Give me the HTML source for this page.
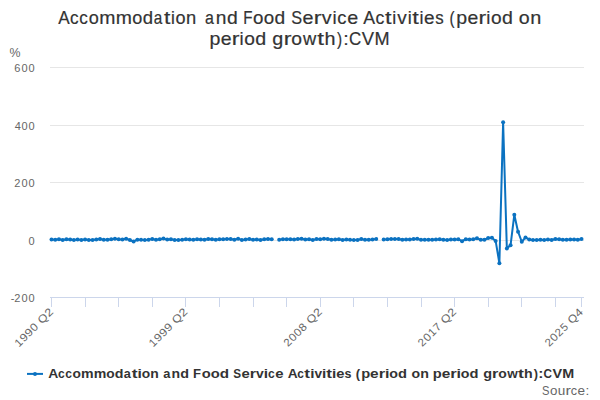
<!DOCTYPE html>
<html><head><meta charset="utf-8"><style>
html,body{margin:0;padding:0;background:#fff;width:600px;height:400px;overflow:hidden}
svg{display:block}
text{font-family:"Liberation Sans",sans-serif}
</style></head><body>
<svg width="600" height="400" viewBox="0 0 600 400">
<rect width="600" height="400" fill="#fff"/>
<g fill="#333" font-size="18.6" stroke="#333" stroke-width="0.2">
<text transform="matrix(0.923 0 0 1 58.17 23.7)">A</text><text transform="matrix(0.920 0 0 1 69.94 23.7)">c</text><text transform="matrix(0.920 0 0 1 79.31 23.7)">c</text><text transform="matrix(0.974 0 0 1 88.65 23.7)">o</text><text transform="matrix(1.044 0 0 1 99.16 23.7)">m</text><text transform="matrix(1.044 0 0 1 115.76 23.7)">m</text><text transform="matrix(0.974 0 0 1 132.29 23.7)">o</text><text transform="matrix(0.996 0 0 1 142.70 23.7)">d</text><text transform="matrix(0.824 0 0 1 153.73 23.7)">a</text><text transform="matrix(1.225 0 0 1 163.91 23.7)">t</text><text transform="matrix(0.937 0 0 1 170.92 23.7)">i</text><text transform="matrix(0.974 0 0 1 175.40 23.7)">o</text><text transform="matrix(0.988 0 0 1 185.97 23.7)">n</text><text transform="matrix(0.860 0 0 1 204.92 23.7)">a</text><text transform="matrix(1.032 0 0 1 215.78 23.7)">n</text><text transform="matrix(1.040 0 0 1 226.89 23.7)">d</text><text transform="matrix(0.813 0 0 1 243.16 23.7)">F</text><text transform="matrix(1.008 0 0 1 253.00 23.7)">o</text><text transform="matrix(1.008 0 0 1 263.80 23.7)">o</text><text transform="matrix(1.031 0 0 1 274.57 23.7)">d</text><text transform="matrix(0.876 0 0 1 291.26 23.7)">S</text><text transform="matrix(1.062 0 0 1 302.57 23.7)">e</text><text transform="matrix(1.260 0 0 1 313.76 23.7)">r</text><text transform="matrix(1.061 0 0 1 321.65 23.7)">v</text><text transform="matrix(1.005 0 0 1 332.46 23.7)">i</text><text transform="matrix(0.986 0 0 1 337.30 23.7)">c</text><text transform="matrix(1.062 0 0 1 347.29 23.7)">e</text><text transform="matrix(0.953 0 0 1 363.37 23.7)">A</text><text transform="matrix(0.949 0 0 1 375.52 23.7)">c</text><text transform="matrix(1.265 0 0 1 385.09 23.7)">t</text><text transform="matrix(0.967 0 0 1 392.33 23.7)">i</text><text transform="matrix(1.021 0 0 1 397.23 23.7)">v</text><text transform="matrix(0.967 0 0 1 407.64 23.7)">i</text><text transform="matrix(1.265 0 0 1 412.19 23.7)">t</text><text transform="matrix(0.967 0 0 1 419.43 23.7)">i</text><text transform="matrix(1.022 0 0 1 424.03 23.7)">e</text><text transform="matrix(0.907 0 0 1 435.17 23.7)">s</text><text transform="matrix(0.817 0 0 1 449.56 23.7)">(</text><text transform="matrix(1.051 0 0 1 456.34 23.7)">p</text><text transform="matrix(1.044 0 0 1 467.55 23.7)">e</text><text transform="matrix(1.238 0 0 1 478.54 23.7)">r</text><text transform="matrix(0.988 0 0 1 486.29 23.7)">i</text><text transform="matrix(1.027 0 0 1 491.01 23.7)">o</text><text transform="matrix(1.050 0 0 1 501.99 23.7)">d</text><text transform="matrix(1.055 0 0 1 518.78 23.7)">o</text><text transform="matrix(1.070 0 0 1 530.23 23.7)">n</text><text transform="matrix(1.055 0 0 1 209.53 44.7)">p</text><text transform="matrix(1.048 0 0 1 220.78 44.7)">e</text><text transform="matrix(1.243 0 0 1 231.82 44.7)">r</text><text transform="matrix(0.992 0 0 1 239.60 44.7)">i</text><text transform="matrix(1.031 0 0 1 244.34 44.7)">o</text><text transform="matrix(1.054 0 0 1 255.36 44.7)">d</text><text transform="matrix(1.063 0 0 1 272.17 44.7)">g</text><text transform="matrix(1.253 0 0 1 283.65 44.7)">r</text><text transform="matrix(1.040 0 0 1 291.22 44.7)">o</text><text transform="matrix(0.989 0 0 1 302.95 44.7)">w</text><text transform="matrix(1.307 0 0 1 317.16 44.7)">t</text><text transform="matrix(1.062 0 0 1 324.45 44.7)">h</text><text transform="matrix(0.827 0 0 1 337.07 44.7)">)</text><text transform="matrix(1.058 0 0 1 343.13 44.7)">:</text><text transform="matrix(0.908 0 0 1 349.09 44.7)">C</text><text transform="matrix(0.993 0 0 1 361.69 44.7)">V</text><text transform="matrix(0.975 0 0 1 374.38 44.7)">M</text>
</g>
<g stroke="#e6e6e6" stroke-width="1" fill="none">
<path d="M50 67.5 H584"/><path d="M50 125.5 H584"/><path d="M50 182.5 H584"/><path d="M50 240.5 H584"/>
</g>
<g stroke="#ccd6eb" stroke-width="1" fill="none">
<path d="M50 297.5 H584"/>
<path d="M51.5 297.5 V307"/><path d="M85.5 297.5 V307"/><path d="M118.5 297.5 V307"/><path d="M152.5 297.5 V307"/><path d="M185.5 297.5 V307"/><path d="M219.5 297.5 V307"/><path d="M253.5 297.5 V307"/><path d="M286.5 297.5 V307"/><path d="M320.5 297.5 V307"/><path d="M353.5 297.5 V307"/><path d="M387.5 297.5 V307"/><path d="M421.5 297.5 V307"/><path d="M454.5 297.5 V307"/><path d="M488.5 297.5 V307"/><path d="M521.5 297.5 V307"/><path d="M555.5 297.5 V307"/><path d="M581.5 297.5 V307"/>
</g>
<g fill="#666" font-size="11">
<text x="14.34" y="72">6</text><text x="21.47" y="72">0</text><text x="28.47" y="72">0</text><text x="14.65" y="129.5">4</text><text x="21.47" y="129.5">0</text><text x="28.47" y="129.5">0</text><text x="14.35" y="187">2</text><text x="21.47" y="187">0</text><text x="28.47" y="187">0</text><text x="28.47" y="244.5">0</text><text x="14.35" y="302">2</text><text x="21.47" y="302">0</text><text x="28.47" y="302">0</text><text x="10.83" y="302">-</text><text x="9.46" y="56.9" textLength="10.98" lengthAdjust="spacingAndGlyphs" font-size="12.6">%</text>
<g transform="rotate(-45 53.8 312.7)"><text transform="matrix(1.043 0 0 1 4.53 312.7)">1</text><text transform="matrix(1.128 0 0 1 11.54 312.7)">9</text><text transform="matrix(1.128 0 0 1 18.79 312.7)">9</text><text transform="matrix(1.092 0 0 1 26.19 312.7)">0</text><text transform="matrix(1.121 0 0 1 37.02 312.7)">Q</text><text transform="matrix(1.152 0 0 1 46.99 312.7)">2</text></g><g transform="rotate(-45 188.2 312.7)"><text transform="matrix(1.045 0 0 1 138.89 312.7)">1</text><text transform="matrix(1.130 0 0 1 145.91 312.7)">9</text><text transform="matrix(1.130 0 0 1 153.18 312.7)">9</text><text transform="matrix(1.130 0 0 1 160.44 312.7)">9</text><text transform="matrix(1.121 0 0 1 171.38 312.7)">Q</text><text transform="matrix(1.152 0 0 1 181.36 312.7)">2</text></g><g transform="rotate(-45 322.5 312.7)"><text transform="matrix(1.038 0 0 1 273.56 312.7)">2</text><text transform="matrix(1.077 0 0 1 280.74 312.7)">0</text><text transform="matrix(1.077 0 0 1 287.88 312.7)">0</text><text transform="matrix(1.088 0 0 1 294.99 312.7)">8</text><text transform="matrix(1.121 0 0 1 305.75 312.7)">Q</text><text transform="matrix(1.152 0 0 1 315.72 312.7)">2</text></g><g transform="rotate(-45 456.9 312.7)"><text transform="matrix(1.045 0 0 1 407.92 312.7)">2</text><text transform="matrix(1.084 0 0 1 415.15 312.7)">0</text><text transform="matrix(1.036 0 0 1 422.44 312.7)">1</text><text transform="matrix(1.061 0 0 1 429.60 312.7)">7</text><text transform="matrix(1.121 0 0 1 440.11 312.7)">Q</text><text transform="matrix(1.152 0 0 1 450.09 312.7)">2</text></g><g transform="rotate(-45 583.8 312.7)"><text transform="matrix(1.046 0 0 1 534.82 312.7)">2</text><text transform="matrix(1.085 0 0 1 542.06 312.7)">0</text><text transform="matrix(1.046 0 0 1 549.23 312.7)">2</text><text transform="matrix(1.024 0 0 1 556.61 312.7)">5</text><text transform="matrix(1.083 0 0 1 567.04 312.7)">Q</text><text transform="matrix(1.155 0 0 1 576.71 312.7)">4</text></g>
</g>
<g>
<path d="M51.50 239.61 L55.23 239.84 L58.96 239.20 L62.70 239.95 L66.43 239.35 L70.16 239.58 L73.89 239.95 L77.63 239.38 L81.36 239.98 L85.09 239.46 L88.82 239.95 L92.56 239.92 L96.29 239.49 L100.02 238.97 L103.75 239.87 L107.49 239.75 L111.22 239.23 L114.95 238.80 L118.68 239.29 L122.42 239.52 L126.15 238.77 L129.88 239.98 L133.61 241.47 L137.35 239.66 L141.08 239.87 L144.81 239.89 L148.54 239.63 L152.27 238.97 L156.01 239.81 L159.74 239.29 L163.47 238.60 L167.20 239.55 L170.94 239.32 L174.67 239.95 L178.40 239.95 L182.13 239.78 L185.87 239.15 L189.60 239.49 L193.33 239.63 L197.06 239.29 L200.80 239.46 L204.53 239.66 L208.26 239.00 L211.99 239.15 L215.73 239.72 L219.46 239.29 L223.19 239.35 L226.92 238.92 L230.65 239.09 L234.39 239.66 L238.12 238.77 L241.85 239.89 L245.58 239.49 L249.32 239.06 L253.05 239.84 L256.78 239.41 L260.51 239.98 L264.25 239.18 L267.98 239.06 L271.71 239.29 M279.18 239.63 L282.91 239.15 L286.64 239.26 L290.37 239.29 L294.11 239.43 L297.84 238.94 L301.57 238.80 L305.30 239.43 L309.04 239.18 L312.77 239.95 L316.50 239.12 L320.23 239.20 L323.96 238.74 L327.70 238.97 L331.43 239.66 L335.16 239.55 L338.89 239.18 L342.63 240.01 L346.36 239.43 L350.09 239.81 L353.82 239.89 L357.56 239.95 L361.29 239.03 L365.02 239.87 L368.75 239.72 L372.49 239.52 L376.22 238.92 M383.68 239.46 L387.42 239.32 L391.15 238.89 L394.88 238.97 L398.61 238.92 L402.35 239.66 L406.08 239.49 L409.81 239.58 L413.54 238.89 L417.27 238.80 L421.01 239.84 L424.74 239.81 L428.47 239.75 L432.20 239.72 L435.94 239.41 L439.67 239.26 L443.40 239.69 L447.13 240.04 L450.87 239.49 L454.60 239.55 L458.33 239.32 L462.06 241.19 L465.80 239.15 L469.53 239.38 L473.26 239.26 L476.99 238.31 L480.73 239.75 L484.46 239.75 L488.19 238.03 L491.92 237.74 L495.65 240.90 L499.39 263.32 L503.12 122.16 L506.85 248.38 L510.58 245.21 L514.32 214.74 L518.05 231.70 L521.78 241.76 L525.51 237.45 L529.25 239.61 L532.98 239.98 L536.71 240.04 L540.44 239.84 L544.18 239.89 L547.91 239.58 L551.64 240.01 L555.37 238.92 L559.11 239.23 L562.84 239.84 L566.57 239.72 L570.30 239.58 L574.04 239.58 L577.77 239.87 L581.50 238.94 " fill="none" stroke="#0b72c1" stroke-width="2" stroke-linejoin="round" stroke-linecap="round"/>
<g fill="#0b72c1"><circle cx="51.50" cy="239.61" r="2"/><circle cx="55.23" cy="239.84" r="2"/><circle cx="58.96" cy="239.20" r="2"/><circle cx="62.70" cy="239.95" r="2"/><circle cx="66.43" cy="239.35" r="2"/><circle cx="70.16" cy="239.58" r="2"/><circle cx="73.89" cy="239.95" r="2"/><circle cx="77.63" cy="239.38" r="2"/><circle cx="81.36" cy="239.98" r="2"/><circle cx="85.09" cy="239.46" r="2"/><circle cx="88.82" cy="239.95" r="2"/><circle cx="92.56" cy="239.92" r="2"/><circle cx="96.29" cy="239.49" r="2"/><circle cx="100.02" cy="238.97" r="2"/><circle cx="103.75" cy="239.87" r="2"/><circle cx="107.49" cy="239.75" r="2"/><circle cx="111.22" cy="239.23" r="2"/><circle cx="114.95" cy="238.80" r="2"/><circle cx="118.68" cy="239.29" r="2"/><circle cx="122.42" cy="239.52" r="2"/><circle cx="126.15" cy="238.77" r="2"/><circle cx="129.88" cy="239.98" r="2"/><circle cx="133.61" cy="241.47" r="2"/><circle cx="137.35" cy="239.66" r="2"/><circle cx="141.08" cy="239.87" r="2"/><circle cx="144.81" cy="239.89" r="2"/><circle cx="148.54" cy="239.63" r="2"/><circle cx="152.27" cy="238.97" r="2"/><circle cx="156.01" cy="239.81" r="2"/><circle cx="159.74" cy="239.29" r="2"/><circle cx="163.47" cy="238.60" r="2"/><circle cx="167.20" cy="239.55" r="2"/><circle cx="170.94" cy="239.32" r="2"/><circle cx="174.67" cy="239.95" r="2"/><circle cx="178.40" cy="239.95" r="2"/><circle cx="182.13" cy="239.78" r="2"/><circle cx="185.87" cy="239.15" r="2"/><circle cx="189.60" cy="239.49" r="2"/><circle cx="193.33" cy="239.63" r="2"/><circle cx="197.06" cy="239.29" r="2"/><circle cx="200.80" cy="239.46" r="2"/><circle cx="204.53" cy="239.66" r="2"/><circle cx="208.26" cy="239.00" r="2"/><circle cx="211.99" cy="239.15" r="2"/><circle cx="215.73" cy="239.72" r="2"/><circle cx="219.46" cy="239.29" r="2"/><circle cx="223.19" cy="239.35" r="2"/><circle cx="226.92" cy="238.92" r="2"/><circle cx="230.65" cy="239.09" r="2"/><circle cx="234.39" cy="239.66" r="2"/><circle cx="238.12" cy="238.77" r="2"/><circle cx="241.85" cy="239.89" r="2"/><circle cx="245.58" cy="239.49" r="2"/><circle cx="249.32" cy="239.06" r="2"/><circle cx="253.05" cy="239.84" r="2"/><circle cx="256.78" cy="239.41" r="2"/><circle cx="260.51" cy="239.98" r="2"/><circle cx="264.25" cy="239.18" r="2"/><circle cx="267.98" cy="239.06" r="2"/><circle cx="271.71" cy="239.29" r="2"/><circle cx="279.18" cy="239.63" r="2"/><circle cx="282.91" cy="239.15" r="2"/><circle cx="286.64" cy="239.26" r="2"/><circle cx="290.37" cy="239.29" r="2"/><circle cx="294.11" cy="239.43" r="2"/><circle cx="297.84" cy="238.94" r="2"/><circle cx="301.57" cy="238.80" r="2"/><circle cx="305.30" cy="239.43" r="2"/><circle cx="309.04" cy="239.18" r="2"/><circle cx="312.77" cy="239.95" r="2"/><circle cx="316.50" cy="239.12" r="2"/><circle cx="320.23" cy="239.20" r="2"/><circle cx="323.96" cy="238.74" r="2"/><circle cx="327.70" cy="238.97" r="2"/><circle cx="331.43" cy="239.66" r="2"/><circle cx="335.16" cy="239.55" r="2"/><circle cx="338.89" cy="239.18" r="2"/><circle cx="342.63" cy="240.01" r="2"/><circle cx="346.36" cy="239.43" r="2"/><circle cx="350.09" cy="239.81" r="2"/><circle cx="353.82" cy="239.89" r="2"/><circle cx="357.56" cy="239.95" r="2"/><circle cx="361.29" cy="239.03" r="2"/><circle cx="365.02" cy="239.87" r="2"/><circle cx="368.75" cy="239.72" r="2"/><circle cx="372.49" cy="239.52" r="2"/><circle cx="376.22" cy="238.92" r="2"/><circle cx="383.68" cy="239.46" r="2"/><circle cx="387.42" cy="239.32" r="2"/><circle cx="391.15" cy="238.89" r="2"/><circle cx="394.88" cy="238.97" r="2"/><circle cx="398.61" cy="238.92" r="2"/><circle cx="402.35" cy="239.66" r="2"/><circle cx="406.08" cy="239.49" r="2"/><circle cx="409.81" cy="239.58" r="2"/><circle cx="413.54" cy="238.89" r="2"/><circle cx="417.27" cy="238.80" r="2"/><circle cx="421.01" cy="239.84" r="2"/><circle cx="424.74" cy="239.81" r="2"/><circle cx="428.47" cy="239.75" r="2"/><circle cx="432.20" cy="239.72" r="2"/><circle cx="435.94" cy="239.41" r="2"/><circle cx="439.67" cy="239.26" r="2"/><circle cx="443.40" cy="239.69" r="2"/><circle cx="447.13" cy="240.04" r="2"/><circle cx="450.87" cy="239.49" r="2"/><circle cx="454.60" cy="239.55" r="2"/><circle cx="458.33" cy="239.32" r="2"/><circle cx="462.06" cy="241.19" r="2"/><circle cx="465.80" cy="239.15" r="2"/><circle cx="469.53" cy="239.38" r="2"/><circle cx="473.26" cy="239.26" r="2"/><circle cx="476.99" cy="238.31" r="2"/><circle cx="480.73" cy="239.75" r="2"/><circle cx="484.46" cy="239.75" r="2"/><circle cx="488.19" cy="238.03" r="2"/><circle cx="491.92" cy="237.74" r="2"/><circle cx="495.65" cy="240.90" r="2"/><circle cx="499.39" cy="263.32" r="2"/><circle cx="503.12" cy="122.16" r="2"/><circle cx="506.85" cy="248.38" r="2"/><circle cx="510.58" cy="245.21" r="2"/><circle cx="514.32" cy="214.74" r="2"/><circle cx="518.05" cy="231.70" r="2"/><circle cx="521.78" cy="241.76" r="2"/><circle cx="525.51" cy="237.45" r="2"/><circle cx="529.25" cy="239.61" r="2"/><circle cx="532.98" cy="239.98" r="2"/><circle cx="536.71" cy="240.04" r="2"/><circle cx="540.44" cy="239.84" r="2"/><circle cx="544.18" cy="239.89" r="2"/><circle cx="547.91" cy="239.58" r="2"/><circle cx="551.64" cy="240.01" r="2"/><circle cx="555.37" cy="238.92" r="2"/><circle cx="559.11" cy="239.23" r="2"/><circle cx="562.84" cy="239.84" r="2"/><circle cx="566.57" cy="239.72" r="2"/><circle cx="570.30" cy="239.58" r="2"/><circle cx="574.04" cy="239.58" r="2"/><circle cx="577.77" cy="239.87" r="2"/><circle cx="581.50" cy="238.94" r="2"/></g>
</g>
<g>
<path d="M27 373.9 H43" stroke="#0b72c1" stroke-width="2"/>
<circle cx="35" cy="373.9" r="2" fill="#0b72c1"/>
<g font-size="12.5" font-weight="bold" fill="#333"><text transform="matrix(1.115 0 0 1 48.15 377.8)">A</text><text transform="matrix(0.970 0 0 1 57.97 377.8)">c</text><text transform="matrix(0.970 0 0 1 65.22 377.8)">c</text><text transform="matrix(1.105 0 0 1 72.41 377.8)">o</text><text transform="matrix(1.132 0 0 1 80.92 377.8)">m</text><text transform="matrix(1.132 0 0 1 93.68 377.8)">m</text><text transform="matrix(1.105 0 0 1 106.34 377.8)">o</text><text transform="matrix(1.141 0 0 1 114.72 377.8)">d</text><text transform="matrix(1.016 0 0 1 123.68 377.8)">a</text><text transform="matrix(1.402 0 0 1 131.73 377.8)">t</text><text transform="matrix(1.248 0 0 1 137.57 377.8)">i</text><text transform="matrix(1.105 0 0 1 141.82 377.8)">o</text><text transform="matrix(1.115 0 0 1 150.35 377.8)">n</text><text transform="matrix(1.025 0 0 1 163.22 377.8)">a</text><text transform="matrix(1.125 0 0 1 171.51 377.8)">n</text><text transform="matrix(1.151 0 0 1 180.16 377.8)">d</text><text transform="matrix(1.047 0 0 1 193.12 377.8)">F</text><text transform="matrix(1.182 0 0 1 201.73 377.8)">o</text><text transform="matrix(1.182 0 0 1 210.72 377.8)">o</text><text transform="matrix(1.220 0 0 1 219.69 377.8)">d</text><text transform="matrix(0.940 0 0 1 233.26 377.8)">S</text><text transform="matrix(1.190 0 0 1 241.48 377.8)">e</text><text transform="matrix(1.291 0 0 1 249.80 377.8)">r</text><text transform="matrix(1.112 0 0 1 256.00 377.8)">v</text><text transform="matrix(1.247 0 0 1 263.78 377.8)">i</text><text transform="matrix(0.969 0 0 1 268.09 377.8)">c</text><text transform="matrix(1.190 0 0 1 275.24 377.8)">e</text><text transform="matrix(1.099 0 0 1 287.66 377.8)">A</text><text transform="matrix(0.955 0 0 1 297.33 377.8)">c</text><text transform="matrix(1.381 0 0 1 304.37 377.8)">t</text><text transform="matrix(1.229 0 0 1 310.13 377.8)">i</text><text transform="matrix(1.095 0 0 1 314.45 377.8)">v</text><text transform="matrix(1.229 0 0 1 322.12 377.8)">i</text><text transform="matrix(1.381 0 0 1 326.26 377.8)">t</text><text transform="matrix(1.229 0 0 1 332.02 377.8)">i</text><text transform="matrix(1.173 0 0 1 336.16 377.8)">e</text><text transform="matrix(0.997 0 0 1 344.58 377.8)">s</text><text transform="matrix(1.044 0 0 1 355.75 377.8)">(</text><text transform="matrix(1.179 0 0 1 361.19 377.8)">p</text><text transform="matrix(1.230 0 0 1 370.10 377.8)">e</text><text transform="matrix(1.335 0 0 1 378.70 377.8)">r</text><text transform="matrix(1.290 0 0 1 384.91 377.8)">i</text><text transform="matrix(1.142 0 0 1 389.30 377.8)">o</text><text transform="matrix(1.179 0 0 1 397.97 377.8)">d</text><text transform="matrix(1.130 0 0 1 411.45 377.8)">o</text><text transform="matrix(1.140 0 0 1 420.18 377.8)">n</text><text transform="matrix(1.177 0 0 1 432.78 377.8)">p</text><text transform="matrix(1.228 0 0 1 441.67 377.8)">e</text><text transform="matrix(1.332 0 0 1 450.25 377.8)">r</text><text transform="matrix(1.287 0 0 1 456.46 377.8)">i</text><text transform="matrix(1.140 0 0 1 460.83 377.8)">o</text><text transform="matrix(1.177 0 0 1 469.49 377.8)">d</text><text transform="matrix(1.155 0 0 1 483.16 377.8)">g</text><text transform="matrix(1.305 0 0 1 492.02 377.8)">r</text><text transform="matrix(1.117 0 0 1 498.14 377.8)">o</text><text transform="matrix(1.080 0 0 1 507.13 377.8)">w</text><text transform="matrix(1.418 0 0 1 518.04 377.8)">t</text><text transform="matrix(1.136 0 0 1 524.05 377.8)">h</text><text transform="matrix(1.021 0 0 1 533.79 377.8)">)</text><text transform="matrix(1.241 0 0 1 538.36 377.8)">:</text><text transform="matrix(0.939 0 0 1 543.55 377.8)">C</text><text transform="matrix(1.158 0 0 1 552.46 377.8)">V</text><text transform="matrix(1.148 0 0 1 562.25 377.8)">M</text></g>
<g font-size="12" fill="#666"><text transform="matrix(0.934 0 0 1 542.09 394.8)">S</text><text transform="matrix(1.114 0 0 1 549.88 394.8)">o</text><text transform="matrix(1.130 0 0 1 557.63 394.8)">u</text><text transform="matrix(1.342 0 0 1 565.49 394.8)">r</text><text transform="matrix(1.051 0 0 1 570.74 394.8)">c</text><text transform="matrix(1.132 0 0 1 577.61 394.8)">e</text><text transform="matrix(1.134 0 0 1 585.46 394.8)">:</text></g>
</g>
</svg>
</body></html>
